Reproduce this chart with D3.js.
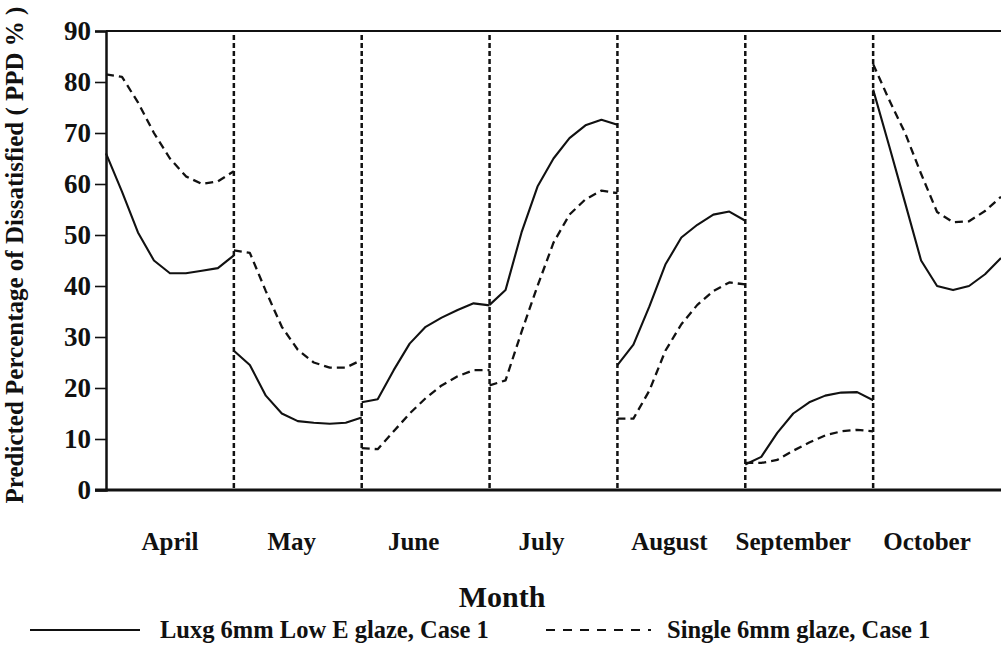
<!DOCTYPE html>
<html>
<head>
<meta charset="utf-8">
<script src="https://cdn.jsdelivr.net/npm/d3@7"></script>
<style>
  html, body { margin: 0; padding: 0; background: #fff; }
  svg { display: block; }
  text { font-family: "Liberation Serif", "Times New Roman", serif; font-weight: bold; fill: #111; }
</style>
</head>
<body>
<svg id="chart" width="1001" height="652"></svg>
<script>
// Months shown along the x axis; each month holds nine hourly readings
const months = ["April", "May", "June", "July", "August", "September", "October"];
const hoursPerMonth = 9;

// PPD (%) for the Luxg 6mm Low E glaze, Case 1
const luxgApril     = [66, 58.5, 50.5, 45, 42.5, 42.5, 43, 43.5, 46];
const luxgMay       = [27.3, 24.5, 18.5, 15, 13.5, 13.2, 13, 13.2, 14.2];
const luxgJune      = [17.2, 17.8, 23.5, 28.7, 32, 33.8, 35.3, 36.6, 36.2];
const luxgJuly      = [36.3, 39.2, 50.5, 59.5, 65, 69, 71.5, 72.6, 71.6];
const luxgAugust    = [24.5, 28.5, 36, 44.2, 49.5, 52, 54, 54.6, 52.8];
const luxgSeptember = [5, 6.5, 11.2, 15, 17.2, 18.5, 19.1, 19.2, 17.6];
const luxgOctober   = [78.5, 67.5, 56.3, 45, 40, 39.2, 40, 42.3, 45.5];

// PPD (%) for the Single 6mm glaze, Case 1
const singleApril     = [81.5, 81, 76, 70, 65, 61.5, 60, 60.5, 62.5];
const singleMay       = [47, 46.5, 39, 32, 27.5, 25, 24, 24, 25.5];
const singleJune      = [8.2, 8, 11.5, 15, 18, 20.5, 22.3, 23.5, 23.5];
const singleJuly      = [20.5, 21.5, 31, 40, 48.5, 54, 57, 58.7, 58.2];
const singleAugust    = [14, 14, 19.5, 27.3, 32.5, 36.3, 39, 40.7, 40.3];
const singleSeptember = [5.3, 5.3, 5.9, 7.7, 9.3, 10.7, 11.5, 11.8, 11.5];
const singleOctober   = [83.5, 76.5, 70, 62, 54.5, 52.5, 52.7, 54.7, 57.5];

const yTicks = [0, 10, 20, 30, 40, 50, 60, 70, 80, 90];

const seriesList = [
  { name: "Luxg 6mm Low E glaze, Case 1", dash: null,
    byMonth: [luxgApril, luxgMay, luxgJune, luxgJuly, luxgAugust, luxgSeptember, luxgOctober] },
  { name: "Single 6mm glaze, Case 1", dash: "8,5",
    byMonth: [singleApril, singleMay, singleJune, singleJuly, singleAugust, singleSeptember, singleOctober] }
];

// Layout
const plot = { left: 106, right: 1001, top: 31, bottom: 490 };
const labelNudge = [0, -6, -12, -12, -12, -16, -10];

const svg = d3.select("#chart");

const x = d3.scaleLinear().domain([0, months.length]).range([plot.left, plot.right]);
const y = d3.scaleLinear().domain([0, 90]).range([plot.bottom, plot.top]);

// Month separators (dotted verticals)
svg.append("g")
  .selectAll("line")
  .data(d3.range(1, months.length))
  .join("line")
  .attr("x1", d => x(d)).attr("x2", d => x(d))
  .attr("y1", y(90) + 4).attr("y2", y(0))
  .attr("stroke", "#111")
  .attr("stroke-width", 2.5)
  .attr("stroke-dasharray", "5,3");

// Curves, one path per month for each series
const line = d3.line()
  .x(d => x(d.m + d.i / (hoursPerMonth - 1)))
  .y(d => y(d.v));

seriesList.forEach(s => {
  svg.append("g")
    .selectAll("path")
    .data(s.byMonth.map((vals, m) => vals.map((v, i) => ({ m, i, v }))))
    .join("path")
    .attr("d", line)
    .attr("fill", "none")
    .attr("stroke", "#111")
    .attr("stroke-width", s.dash ? 2.3 : 2.1)
    .attr("stroke-linejoin", "round")
    .attr("stroke-dasharray", s.dash);
});

// Y axis
const yAxis = d3.axisLeft(y).tickValues(yTicks).tickSize(11).tickPadding(4);
const gy = svg.append("g").attr("transform", `translate(${plot.left},0)`).call(yAxis);
gy.select(".domain").attr("stroke", "#111").attr("stroke-width", 2.5);
gy.selectAll(".tick line").attr("stroke", "#111").attr("stroke-width", 1.6);
gy.selectAll(".tick text")
  .attr("font-size", 27)
  .attr("font-family", "Liberation Serif, serif")
  .attr("font-weight", "bold")
  .attr("fill", "#111");

// Top frame line and x baseline
svg.append("line")
  .attr("x1", plot.left).attr("x2", plot.right)
  .attr("y1", y(90)).attr("y2", y(90))
  .attr("stroke", "#111").attr("stroke-width", 2);
svg.append("line")
  .attr("x1", plot.left - 11).attr("x2", plot.right)
  .attr("y1", y(0)).attr("y2", y(0))
  .attr("stroke", "#111").attr("stroke-width", 3);

// Month labels
svg.append("g")
  .selectAll("text")
  .data(months)
  .join("text")
  .attr("x", (d, i) => x(i + 0.5) + labelNudge[i])
  .attr("y", 550)
  .attr("text-anchor", "middle")
  .attr("font-size", 25)
  .text(d => d);

// Axis titles
svg.append("text")
  .attr("x", 502).attr("y", 607)
  .attr("text-anchor", "middle")
  .attr("font-size", 30)
  .text("Month");

svg.append("text")
  .attr("transform", `translate(23,${255}) rotate(-90)`)
  .attr("text-anchor", "middle")
  .attr("font-size", 25)
  .text("Predicted Percentage of Dissatisfied ( PPD % )");

// Legend
const legendItems = [
  { s: seriesList[0], x1: 30, x2: 140, tx: 160 },
  { s: seriesList[1], x1: 546, x2: 651, tx: 667 }
];
const lg = svg.append("g");
legendItems.forEach(it => {
  lg.append("line")
    .attr("x1", it.x1).attr("x2", it.x2)
    .attr("y1", 630).attr("y2", 630)
    .attr("stroke", "#111")
    .attr("stroke-width", 2)
    .attr("stroke-dasharray", it.s.dash ? "9,8" : null);
  lg.append("text")
    .attr("x", it.tx).attr("y", 638)
    .attr("font-size", 24.5)
    .text(it.s.name);
});
</script>
</body>
</html>
